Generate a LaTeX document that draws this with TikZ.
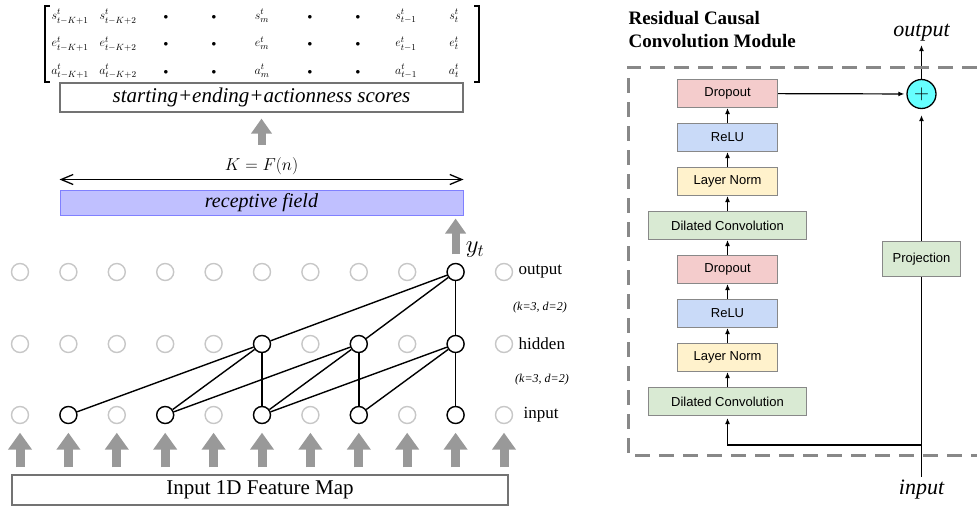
\documentclass[tikz,border=0pt]{standalone}
\usepackage{fontspec}
\setmainfont{Liberation Serif}
\setsansfont{Liberation Sans}
\usepackage{amsmath}
\usetikzlibrary{arrows.meta}
\usetikzlibrary{positioning}
\usetikzlibrary{matrix}
\definecolor{dropcol}{HTML}{F4CCCC}
\definecolor{relucol}{HTML}{C9DAF8}
\definecolor{normcol}{HTML}{FFF2CC}
\definecolor{convcol}{HTML}{D9EAD3}
\definecolor{fieldcol}{HTML}{C0C0FF}
\definecolor{fieldline}{HTML}{8080FF}
\definecolor{sumcol}{HTML}{66FFFF}
\definecolor{boxline}{HTML}{888888}
\newcommand{\scoredot}{{\scriptstyle\bullet}}
\tikzset{unit/.style = {circle, draw = black!22, fill = white, line width = 1.4pt,
                        minimum size = 17pt, inner sep = 0}}
\tikzset{active/.style = {unit, draw = black}}
\tikzset{wire/.style = {line width = 1.4pt}}
\tikzset{fat/.style = {draw = black!40, line width = 9pt, -{Triangle[width = 23pt, length = 17pt]}}}
\tikzset{slimfat/.style = {draw = black!40, line width = 8pt, -{Triangle[width = 20pt, length = 15pt]}}}
\tikzset{textbox/.style = {draw = black!55, line width = 1.2pt, inner sep = 0}}
\tikzset{layer/.style = {draw = boxline, line width = 1.3pt, minimum width = 100pt,
                         minimum height = 27.7pt, inner sep = 0,
                         font = \sffamily\fontsize{13}{15}\selectfont}}
\tikzset{flow/.style = {line width = 1.2pt, -{Latex[length = 6pt, width = 5pt]}}}
\tikzset{dashframe/.style = {draw = boxline, line width = 3pt, dash pattern = on 15pt off 9pt}}

\begin{document}
\begin{tikzpicture}[x = 1pt, y = -1pt]
  \useasboundingbox (0, 0) rectangle (977, 506);

  \matrix (scoremat) [matrix of math nodes, inner sep = 0, column sep = 4pt,
                      nodes = {minimum width = 44pt, minimum height = 26pt, inner sep = 0,
                               font = \fontsize{13}{15}\selectfont}] at (262, 44) {
    s^t_{t-K+1} & s^t_{t-K+2} & \scoredot & \scoredot & s^t_m & \scoredot & \scoredot & s^t_{t-1} & s^t_t \\
    e^t_{t-K+1} & e^t_{t-K+2} & \scoredot & \scoredot & e^t_m & \scoredot & \scoredot & e^t_{t-1} & e^t_t \\
    a^t_{t-K+1} & a^t_{t-K+2} & \scoredot & \scoredot & a^t_m & \scoredot & \scoredot & a^t_{t-1} & a^t_t \\
  };
  \draw [line width = 2pt] ([shift = {(2pt, -3pt)}] scoremat.north west) -- ++(-5, 0)
    -- ([shift = {(-3pt, 3pt)}] scoremat.south west) -- ++(5, 0);
  \draw [line width = 2pt] ([shift = {(-2pt, -3pt)}] scoremat.north east) -- ++(5, 0)
    -- ([shift = {(3pt, 3pt)}] scoremat.south east) -- ++(-5, 0);

  \node [textbox, minimum width = 403pt, minimum height = 29pt,
         font = \itshape\fontsize{21}{24}\selectfont] (scores) at (261.5, 97.5)
        {starting+ending+actionness scores};

  \node [draw = fieldline, fill = fieldcol, line width = 1pt, minimum width = 403pt,
         minimum height = 25pt, inner sep = 0, font = \itshape\fontsize{20}{22}\selectfont]
        (field) at (261.5, 202.5) {receptive field};

  \draw [slimfat, shorten <= 45pt, shorten >= 6pt] (field.north) -- (scores.south);

  \draw [{Straight Barb[length = 12pt, width = 10pt]}-{Straight Barb[length = 12pt, width = 10pt]},
         line width = 1.3pt] ([yshift = 10pt] field.north west) -- ([yshift = 10pt] field.north east)
    node (span) [midway, above = 1pt, font = \fontsize{18}{20}\selectfont] {$K = F(n)$};

  \foreach \i in {0, ..., 10} {
    \node [unit] (out-\i) at ({20 + 48.4 * \i}, 272) {};
    \node [unit] (hid-\i) at ({20 + 48.4 * \i}, 344) {};
    \node [unit] (in-\i) at ({20 + 48.4 * \i}, 415) {};
  }
  \foreach \i in {1, 3, 5, 7, 9}
    \node [active] (in-\i) at (in-\i) {};
  \foreach \i in {5, 7, 9}
    \node [active] (hid-\i) at (hid-\i) {};
  \node [active] (out-9) at (out-9) {};

  \foreach \a / \b in {1/5, 3/5, 5/5, 3/7, 5/7, 7/7, 5/9, 7/9, 9/9}
    \draw [wire] (in-\a) -- (hid-\b);
  \foreach \a in {5, 7, 9}
    \draw [wire] (hid-\a) -- (out-9);

  \node [right = 2pt of out-10, font = \fontsize{17}{19}\selectfont] (out-name) {output};
  \node [right = 2pt of hid-10, font = \fontsize{17}{19}\selectfont] (hid-name) {hidden};
  \node [right = 7pt of in-10, font = \fontsize{17}{19}\selectfont] (in-name) {input};
  \node [font = \itshape\fontsize{12}{14}\selectfont] (dil-top) at (540, 308) {(k=3, d=2)};
  \node [font = \itshape\fontsize{12}{14}\selectfont] (dil-low) at (542, 380) {(k=3, d=2)};

  \node [font = \fontsize{26}{28}\selectfont] (yt) at (475, 250) {$y_t$};
  \draw [slimfat, shorten <= 8.5pt, shorten >= 3pt] (out-9.north) -- (field.south -| out-9);

  \node [textbox, minimum width = 496pt, minimum height = 30pt,
         font = \fontsize{21}{24}\selectfont] (fmap) at (260, 490) {Input 1D Feature Map};
  \foreach \i in {0, ..., 10}
    \draw [fat, shorten <= 7pt, shorten >= 8.5pt] (fmap.north -| in-\i) -- (in-\i.south);

  \node [font = \bfseries\fontsize{19}{23}\selectfont, align = left, anchor = west]
        (title) at (625, 30) {Residual Causal\\Convolution Module};

  \node [layer, fill = convcol, minimum width = 158pt] (conv-a) at (727.5, 401.5) {Dilated Convolution};
  \node [layer, fill = normcol, above = 15pt of conv-a] (norm-a) {Layer Norm};
  \node [layer, fill = relucol, above = 15pt of norm-a] (relu-a) {ReLU};
  \node [layer, fill = dropcol, above = 15pt of relu-a] (drop-a) {Dropout};
  \node [layer, fill = convcol, minimum width = 158pt, above = 15pt of drop-a] (conv-b) {Dilated Convolution};
  \node [layer, fill = normcol, above = 15pt of conv-b] (norm-b) {Layer Norm};
  \node [layer, fill = relucol, above = 15pt of norm-b] (relu-b) {ReLU};
  \node [layer, fill = dropcol, above = 15pt of relu-b] (drop-b) {Dropout};
  \foreach \a / \b in {conv-a/norm-a, norm-a/relu-a, relu-a/drop-a, drop-a/conv-b,
                       conv-b/norm-b, norm-b/relu-b, relu-b/drop-b}
    \draw [flow] (\a) -- (\b);

  \node [circle, draw, fill = sumcol, line width = 1.3pt, minimum size = 29pt, inner sep = 0,
         font = \fontsize{22}{22}\selectfont] (sum) at (921.5, 94) {$+$};
  \node [layer, fill = convcol, minimum width = 78pt, minimum height = 34.7pt] (proj) at (921.5, 259) {Projection};
  \node [font = \itshape\fontsize{22}{24}\selectfont] (out-text) at (921.5, 33) {output};
  \node [font = \itshape\fontsize{22}{24}\selectfont] (in-text) at (921.5, 490) {input};
  \coordinate (split) at (921.5, 445);

  \draw [flow, shorten >= 2pt] (drop-b) -- (sum);
  \draw [flow, shorten >= 6pt] (proj) -- (sum);
  \draw [flow] (sum) -- (out-text);
  \draw [line width = 1.2pt] (in-text) -- (proj);
  \draw [flow, shorten >= 2pt] (split) -| (conv-a);

  \draw [dashframe] (977, 67) -- (628, 67) -- (628, 455) -- (977, 455);
\end{tikzpicture}
\end{document}
